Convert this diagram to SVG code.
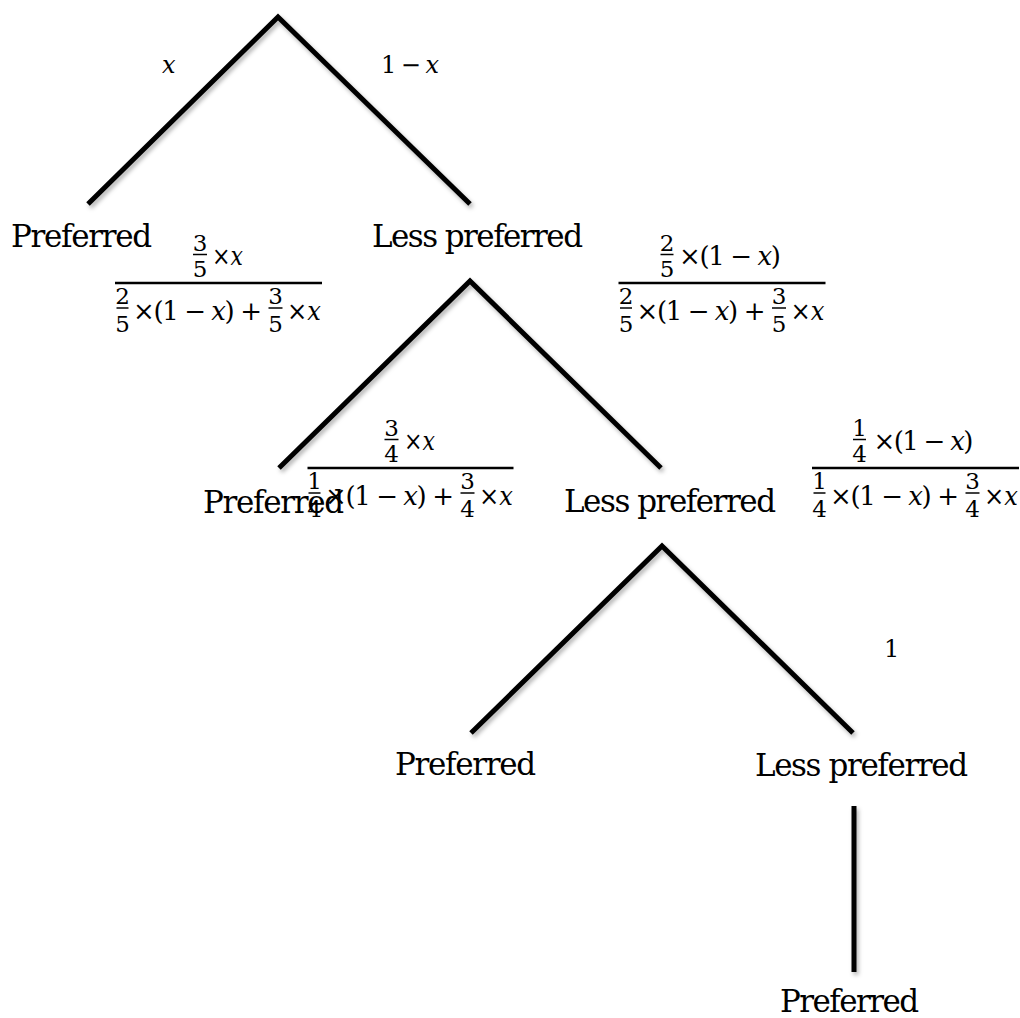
<svg xmlns="http://www.w3.org/2000/svg" width="1020" height="1018" viewBox="0 0 1020 1018">
<defs>
<filter id="sh" filterUnits="userSpaceOnUse" x="0" y="0" width="1020" height="1018">
<feDropShadow dx="2" dy="3" stdDeviation="2" flood-color="#000" flood-opacity="0.3"/>
</filter>
</defs>
<style>
.edge{fill:none;stroke:#000;stroke-width:5;stroke-linejoin:miter;stroke-linecap:butt;filter:url(#sh)}
.lbl{font-family:"DejaVu Serif",serif;font-size:31px;fill:#000}
.m{font-family:"DejaVu Serif",serif;font-size:26px;fill:#000}
.t{font-family:"DejaVu Serif",serif;font-size:24px;fill:#000}
.mi{font-style:italic}
.s{font-family:"DejaVu Serif",serif;font-size:23px;fill:#000;text-anchor:middle}
.bar{stroke:#000;stroke-width:2.5}
.sbar{stroke:#000;stroke-width:1.5}
</style>
<rect width="1020" height="1018" fill="#fff"/>

<g id="connectors">
<polyline class="edge" points="88,204 278,17 470,204"/>
<polyline class="edge" points="279,468 470,281 661,468"/>
<polyline class="edge" points="471,733 662,546 853,733"/>
<line class="edge" x1="854" y1="806" x2="854" y2="972"/>
</g>

<g id="edge-labels">
<text class="t mi" x="162" y="73">x</text>
<text class="t" x="381" y="73" textLength="58" lengthAdjust="spacing">1 − <tspan class="mi">x</tspan></text>
<text class="t" x="884" y="657">1</text>

<g id="frac-a" transform="translate(218.5,283)">
<text class="s" x="-18.5" y="-32">3</text><line class="sbar" x1="-25.5" y1="-28.5" x2="-11.5" y2="-28.5"/><text class="s" x="-18.5" y="-6">5</text>
<text class="m" x="-6.5" y="-18" textLength="31" lengthAdjust="spacingAndGlyphs">×<tspan class="mi">x</tspan></text>
<line class="bar" x1="-103.5" y1="0" x2="103.5" y2="0"/>
<text class="s" x="-96" y="21">2</text><line class="sbar" x1="-102" y1="25" x2="-90" y2="25"/><text class="s" x="-96" y="49">5</text>
<text class="m" x="-85.5" y="37" textLength="129" lengthAdjust="spacing">×(1 − <tspan class="mi">x</tspan>) +</text>
<text class="s" x="57" y="21">3</text><line class="sbar" x1="50" y1="25" x2="64" y2="25"/><text class="s" x="57" y="49">5</text>
<text class="m" x="68.5" y="37" textLength="34" lengthAdjust="spacingAndGlyphs">×<tspan class="mi">x</tspan></text>
</g>

<g id="frac-b" transform="translate(722,283)">
<text class="s" x="-55" y="-32">2</text><line class="sbar" x1="-61.5" y1="-28.5" x2="-48.5" y2="-28.5"/><text class="s" x="-55" y="-6">5</text>
<text class="m" x="-43" y="-18" textLength="102" lengthAdjust="spacing">×(1 − <tspan class="mi">x</tspan>)</text>
<line class="bar" x1="-103.5" y1="0" x2="103.5" y2="0"/>
<text class="s" x="-96" y="21">2</text><line class="sbar" x1="-102" y1="25" x2="-90" y2="25"/><text class="s" x="-96" y="49">5</text>
<text class="m" x="-85.5" y="37" textLength="129" lengthAdjust="spacing">×(1 − <tspan class="mi">x</tspan>) +</text>
<text class="s" x="57" y="21">3</text><line class="sbar" x1="50" y1="25" x2="64" y2="25"/><text class="s" x="57" y="49">5</text>
<text class="m" x="68.5" y="37" textLength="34" lengthAdjust="spacingAndGlyphs">×<tspan class="mi">x</tspan></text>
</g>

<g id="frac-c" transform="translate(410.5,468)">
<text class="s" x="-19" y="-32">3</text><line class="sbar" x1="-26" y1="-28.5" x2="-12" y2="-28.5"/><text class="s" x="-19" y="-6">4</text>
<text class="m" x="-6.5" y="-18" textLength="31" lengthAdjust="spacingAndGlyphs">×<tspan class="mi">x</tspan></text>
<line class="bar" x1="-103" y1="0" x2="103" y2="0"/>
<text class="s" x="-96" y="21">1</text><line class="sbar" x1="-102" y1="25" x2="-90" y2="25"/><text class="s" x="-96" y="49">4</text>
<text class="m" x="-85.5" y="37" textLength="129" lengthAdjust="spacing">×(1 − <tspan class="mi">x</tspan>) +</text>
<text class="s" x="57" y="21">3</text><line class="sbar" x1="50" y1="25" x2="64" y2="25"/><text class="s" x="57" y="49">4</text>
<text class="m" x="68.5" y="37" textLength="34" lengthAdjust="spacingAndGlyphs">×<tspan class="mi">x</tspan></text>
</g>

<g id="frac-d" transform="translate(915.5,468)">
<text class="s" x="-56" y="-32">1</text><line class="sbar" x1="-62.5" y1="-28.5" x2="-49.5" y2="-28.5"/><text class="s" x="-56" y="-6">4</text>
<text class="m" x="-42" y="-18" textLength="100" lengthAdjust="spacing">×(1 − <tspan class="mi">x</tspan>)</text>
<line class="bar" x1="-103.5" y1="0" x2="103.5" y2="0"/>
<text class="s" x="-96" y="21">1</text><line class="sbar" x1="-102" y1="25" x2="-90" y2="25"/><text class="s" x="-96" y="49">4</text>
<text class="m" x="-85.5" y="37" textLength="129" lengthAdjust="spacing">×(1 − <tspan class="mi">x</tspan>) +</text>
<text class="s" x="57" y="21">3</text><line class="sbar" x1="50" y1="25" x2="64" y2="25"/><text class="s" x="57" y="49">4</text>
<text class="m" x="68.5" y="37" textLength="34" lengthAdjust="spacingAndGlyphs">×<tspan class="mi">x</tspan></text>
</g>
</g>

<g id="node-pref-1"><text class="lbl" x="11" y="247" textLength="141" lengthAdjust="spacing">Preferred</text></g>
<g id="node-less-1"><text class="lbl" x="372" y="247" textLength="211" lengthAdjust="spacing">Less preferred</text></g>
<g id="node-pref-2"><text class="lbl" x="203" y="513" textLength="141" lengthAdjust="spacing">Preferred</text></g>
<g id="node-less-2"><text class="lbl" x="564" y="512" textLength="212" lengthAdjust="spacing">Less preferred</text></g>
<g id="node-pref-3"><text class="lbl" x="395" y="775" textLength="141" lengthAdjust="spacing">Preferred</text></g>
<g id="node-less-3"><text class="lbl" x="755" y="776" textLength="213" lengthAdjust="spacing">Less preferred</text></g>
<g id="node-pref-4"><text class="lbl" x="780" y="1012" textLength="139" lengthAdjust="spacing">Preferred</text></g>
</svg>
